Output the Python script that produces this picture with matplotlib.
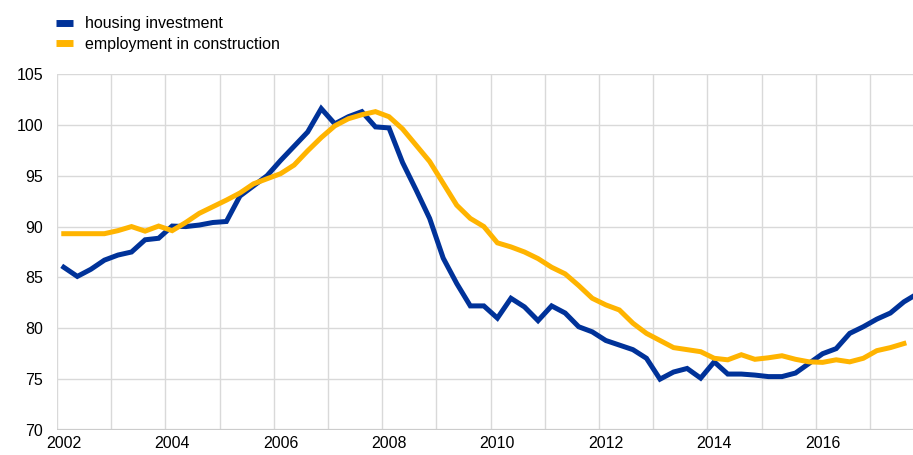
import numpy as np
import matplotlib.pyplot as plt

plt.rcParams['font.family'] = ['Liberation Sans', 'DejaVu Sans']

# -----------------------------
# Datos trimestrales (2002 T1 ...)
# -----------------------------
years = list(range(2002, 2018))
tick_years = [2002, 2004, 2006, 2008, 2010, 2012, 2014, 2016]

housing_investment = [
    86.0, 85.1, 85.8, 86.7, 87.2, 87.5, 88.7, 88.85, 90.05, 90.0, 90.15, 90.4, 90.5,
    93.0, 94.0, 95.0, 96.5, 97.9, 99.3, 101.6, 100.1, 100.8, 101.3, 99.8, 99.7, 96.3,
    93.6, 90.8, 86.9, 84.4, 82.2, 82.2, 81.0, 82.95, 82.1, 80.75, 82.2, 81.5, 80.15,
    79.65, 78.8, 78.35, 77.9, 77.05, 75.0, 75.7, 76.05, 75.1, 76.7, 75.5, 75.5, 75.4,
    75.25, 75.25, 75.6, 76.55, 77.5, 78.0, 79.5, 80.15, 80.9, 81.5, 82.6, 83.4,
]

employment_construction = [
    89.3, 89.3, 89.3, 89.3, 89.6, 90.0, 89.55, 90.05, 89.6, 90.4, 91.3, 91.95, 92.6,
    93.3, 94.2, 94.7, 95.2, 96.05, 97.45, 98.75, 99.9, 100.6, 101.0, 101.3, 100.8, 99.6,
    98.0, 96.4, 94.25, 92.1, 90.8, 90.0, 88.4, 88.0, 87.5, 86.85, 86.0, 85.35, 84.2,
    82.95, 82.3, 81.8, 80.5, 79.5, 78.8, 78.1, 77.9, 77.7, 77.05, 76.9, 77.4, 76.95,
    77.1, 77.3, 76.95, 76.7, 76.65, 76.9, 76.7, 77.05, 77.8, 78.1, 78.5,
]

BLUE = "#003299"
YELLOW = "#FFB400"
GRID = "#d9d9d9"

x_hi = np.arange(len(housing_investment))
x_em = np.arange(len(employment_construction))

# -----------------------------
# Figura
# -----------------------------
fig = plt.figure(figsize=(9.13, 4.55), dpi=100)
ax = fig.add_axes([57 / 913, 1 - 430 / 455, 1 - 57 / 913, (430 - 74) / 455])

ax.plot(x_hi, housing_investment, color=BLUE, lw=3.6,
        label="housing investment", solid_joinstyle="miter", zorder=3)
ax.plot(x_em, employment_construction, color=YELLOW, lw=3.6,
        label="employment in construction", solid_joinstyle="miter", zorder=3)

ax.set_xlim(-0.5, 62.67)
ax.set_ylim(70, 105)
ax.set_yticks(np.arange(70, 106, 5))

# rejilla vertical en los límites de año
for k in range(len(years)):
    ax.axvline(-0.5 + 4 * k, color=GRID, lw=1.0, zorder=1)
for v in range(75, 106, 5):
    ax.axhline(v, color=GRID, lw=1.0, zorder=1)
ax.axhline(70, color="#cccccc", lw=1.6, zorder=1)

ax.set_xticks([(y - 2002) * 4 for y in tick_years])
ax.set_xticklabels([str(y) for y in tick_years])

for s in ax.spines.values():
    s.set_visible(False)
ax.tick_params(axis="both", length=0, labelsize=11.5, colors="black")
ax.tick_params(axis="y", pad=10)
ax.tick_params(axis="x", pad=4)

leg = fig.legend(loc="upper left", bbox_to_anchor=(50 / 913, 1 - 10 / 455),
                 frameon=False, fontsize=11.5, handlelength=1.05,
                 handletextpad=0.75, labelspacing=0.35, borderaxespad=0)
for line in leg.get_lines():
    line.set_linewidth(5)
    line.set_solid_capstyle("butt")

fig.savefig("out.png", dpi=100)
